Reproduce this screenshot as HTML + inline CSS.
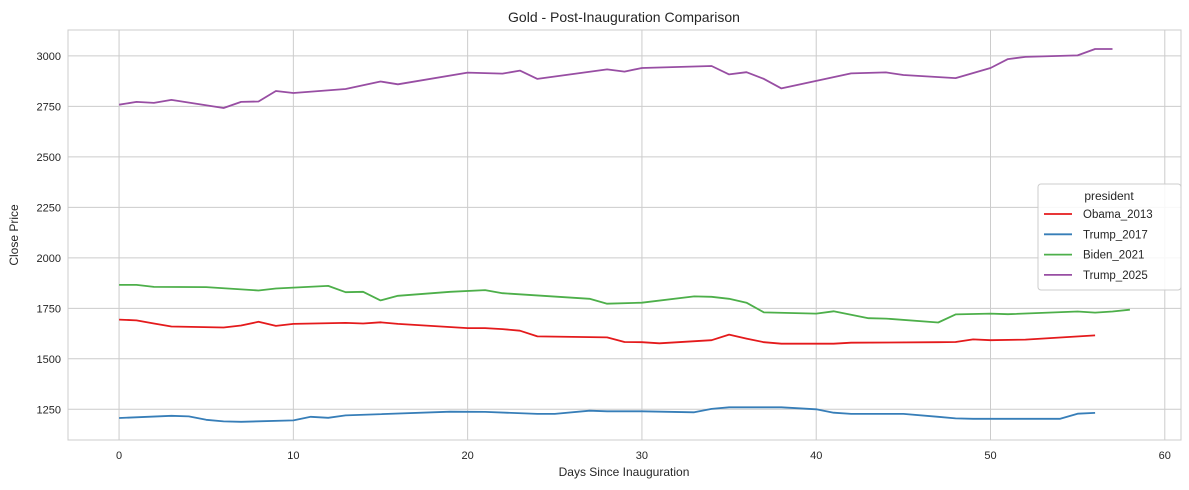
<!DOCTYPE html>
<html><head><meta charset="utf-8"><style>
body{margin:0;background:#fff;}
svg{display:block;font-family:"Liberation Sans",Arial,sans-serif;}
</style></head><body>
<svg id="chart" width="1189" height="490">
  <rect width="1189" height="490" fill="#fff"/>
  <text x="624" y="22" text-anchor="middle" font-size="14" fill="#262626">Gold - Post-Inauguration Comparison</text>
  <g id="grid"></g>
  <rect x="68" y="30" width="1113" height="410" fill="none" stroke="#ccc" stroke-width="1"/>
  <g id="ticks"></g>
  <g id="series"></g>
  <text x="624" y="476" text-anchor="middle" font-size="12" fill="#262626">Days Since Inauguration</text>
  <text x="18" y="235" text-anchor="middle" font-size="12" fill="#262626" transform="rotate(-90 18 235)">Close Price</text>
  <g id="legend"></g>
</svg>
<script>
const xTicks=[0,10,20,30,40,50,60];
const yTicks=[1250,1500,1750,2000,2250,2500,2750,3000];
const seriesNames=["Obama_2013","Trump_2017","Biden_2021","Trump_2025"];
const seriesColors=["#e41a1c","#377eb8","#4daf4a","#984ea3"];
const obamaDays=[0,1,2,3,6,7,8,9,10,13,14,15,16,20,21,22,23,24,28,29,30,31,34,35,36,37,38,41,42,47,48,49,50,52,56];
const obamaVals=[1694,1690,1675,1660,1655,1665,1683,1663,1673,1678,1675,1681,1673,1652,1652,1647,1639,1611,1606,1583,1582,1577,1592,1620,1600,1582,1575,1575,1580,1582,1583,1596,1592,1595,1616];
const trump17Days=[0,3,4,5,6,7,10,11,12,13,19,21,24,25,27,28,30,33,34,35,38,40,41,42,45,47,48,49,54,55,56];
const trump17Vals=[1207,1218,1215,1198,1190,1188,1195,1213,1208,1220,1238,1237,1227,1227,1243,1240,1240,1235,1252,1260,1260,1250,1233,1227,1227,1213,1205,1203,1203,1228,1232];
const bidenDays=[0,1,2,5,8,9,12,13,14,15,16,19,21,22,27,28,30,33,34,35,36,37,40,41,43,44,47,48,50,51,55,56,57,58];
const bidenVals=[1866,1866,1856,1855,1838,1848,1861,1830,1832,1789,1812,1832,1840,1825,1797,1773,1778,1809,1807,1797,1778,1730,1724,1735,1701,1699,1680,1720,1724,1721,1734,1729,1734,1743];
const trump25Days=[0,1,2,3,6,7,8,9,10,13,15,16,20,22,23,24,28,29,30,34,35,36,37,38,42,44,45,48,50,51,52,55,56,57];
const trump25Vals=[2758,2772,2767,2782,2742,2772,2774,2826,2816,2836,2873,2859,2917,2912,2927,2886,2933,2922,2940,2950,2908,2919,2886,2839,2913,2918,2905,2890,2940,2984,2995,3002,3034,3034];
const allDays=[obamaDays,trump17Days,bidenDays,trump25Days];
const allVals=[obamaVals,trump17Vals,bidenVals,trump25Vals];

const NS="http://www.w3.org/2000/svg";
const X0=68,X1=1181,Y0=30,Y1=440,xmin=-2.93,xmax=60.93,ymin=1098,ymax=3128;
const sx=d=>X0+(d-xmin)/(xmax-xmin)*(X1-X0);
const sy=v=>Y1-(v-ymin)/(ymax-ymin)*(Y1-Y0);
function mk(tag,attrs,parent){const e=document.createElementNS(NS,tag);for(const k in attrs)e.setAttribute(k,attrs[k]);parent.appendChild(e);return e;}
const grid=document.getElementById('grid'),ticks=document.getElementById('ticks');
xTicks.forEach(t=>{
  const l=mk('line',{x1:sx(t),x2:sx(t),y1:Y0,y2:Y1,stroke:'#ccc','stroke-width':1},grid);
  
  
  const tx=mk('text',{x:sx(t),y:Y1+19,'text-anchor':'middle','font-size':11,fill:'#262626'},ticks);
  tx.textContent=t;
  
  
});
yTicks.forEach(t=>{
  const l=mk('line',{x1:X0,x2:X1,y1:sy(t),y2:sy(t),stroke:'#ccc','stroke-width':1},grid);
  
  
  const tx=mk('text',{x:X0-7,y:sy(t)+4,'text-anchor':'end','font-size':11,fill:'#262626'},ticks);
  tx.textContent=t;
  
  
});
const sg=document.getElementById('series');
seriesNames.forEach((n,i)=>{
  const pts=allDays[i].map((d,j)=>sx(d).toFixed(1)+','+sy(allVals[i][j]).toFixed(1)).join(' ');
  const p=mk('polyline',{points:pts,fill:'none',stroke:seriesColors[i],'stroke-width':1.8,'stroke-linejoin':'round'},sg);
  
  
});
const lg=document.getElementById('legend');
const box=mk('rect',{x:1038,y:184,width:143,height:106,rx:3,fill:'#fff','fill-opacity':0.85,stroke:'#ccc'},lg);


const lt=mk('text',{x:1109,y:200,'text-anchor':'middle','font-size':12,fill:'#262626'},lg);
lt.textContent='president';


seriesNames.forEach((n,i)=>{
  const y=214+i*20.3;
  const g=mk('g',{},lg);
  
  
  mk('line',{x1:1044,x2:1072,y1:y,y2:y,stroke:seriesColors[i],'stroke-width':1.8},g);
  const t=mk('text',{x:1083,y:y+4,'font-size':11.5,fill:'#262626'},g);
  t.textContent=n;
});
</script>
</body></html>
